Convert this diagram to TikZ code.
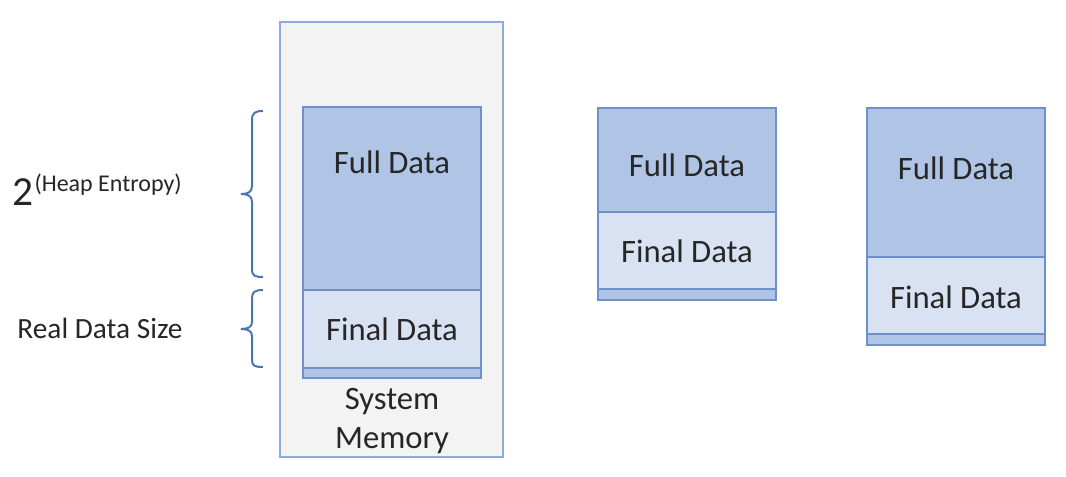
\documentclass[tikz,border=0pt]{standalone}
\usepackage{fontspec}
\setmainfont{Carlito}
\definecolor{fullc}{HTML}{B0C4E5}
\definecolor{finalc}{HTML}{D9E2F2}
\definecolor{edgec}{HTML}{7090C8}
\definecolor{memc}{HTML}{F3F3F3}
\definecolor{memedge}{HTML}{8FAADC}
\definecolor{bracec}{HTML}{4F72B0}
\tikzset{
  fullbox/.style={fill=fullc, draw=edgec, line width=0.8pt},
  finalbox/.style={fill=finalc, draw=edgec, line width=0.8pt},
  membox/.style={fill=memc, draw=memedge, line width=0.8pt},
  lbl/.style={font=\fontsize{24.5}{29}\selectfont, text=black!85, inner sep=0pt},
  sidelbl/.style={font=\fontsize{22}{26}\selectfont, text=black!85, inner sep=0pt},
  bracestyle/.style={draw=bracec, line width=1.5pt}
}
\begin{document}
\begin{tikzpicture}[x=0.75pt,y=-0.75pt]
\useasboundingbox (0,0) rectangle (1066,477);
% system memory
\draw[membox] (280,22) rectangle (503,457);
% left column
\draw[fullbox] (303,107) rectangle (481,290);
\draw[finalbox] (303,290) rectangle (481,368);
\draw[fullbox] (303,368) rectangle (481,378);
\node[lbl] (fullA) at (392,162) {Full Data};
\node[lbl] (finalA) at (392,329) {Final Data};
\node[lbl, align=center] (sysmem) at (392,421) {System\\Memory};
% middle column
\draw[fullbox] (598,108) rectangle (776,212);
\draw[finalbox] (598,212) rectangle (776,289);
\draw[fullbox] (598,289) rectangle (776,300);
\node[lbl] (fullB) at (687,165) {Full Data};
\node[lbl] (finalB) at (687,251) {Final Data};
% right column
\draw[fullbox] (867,108) rectangle (1045,257);
\draw[finalbox] (867,257) rectangle (1045,334);
\draw[fullbox] (867,334) rectangle (1045,345);
\node[lbl] (fullC) at (956,168) {Full Data};
\node[lbl] (finalC) at (956,297) {Final Data};
% braces
\draw[bracestyle] (263,111) .. controls (255,111) and (252,113) .. (252,120) -- (252,186)
  .. controls (252,192) and (248,194) .. (241,194)
  .. controls (248,194) and (252,196) .. (252,202) -- (252,269)
  .. controls (252,276) and (255,277) .. (263,277);
\draw[bracestyle] (263,290) .. controls (255,290) and (252,292) .. (252,298) -- (252,322)
  .. controls (252,327) and (248,329) .. (241,329)
  .. controls (248,329) and (252,331) .. (252,336) -- (252,360)
  .. controls (252,366) and (255,367) .. (263,367);
% side labels
\node[anchor=base west, inner sep=0pt, text=black!85] (heap) at (12,206)
  {\fontsize{31}{31}\selectfont 2\hspace{1pt}\raisebox{10.5pt}{\fontsize{18}{18}\selectfont (Heap Entropy)}};
\node[sidelbl] (realsize) at (100,328) {Real Data Size};
\end{tikzpicture}
\end{document}
